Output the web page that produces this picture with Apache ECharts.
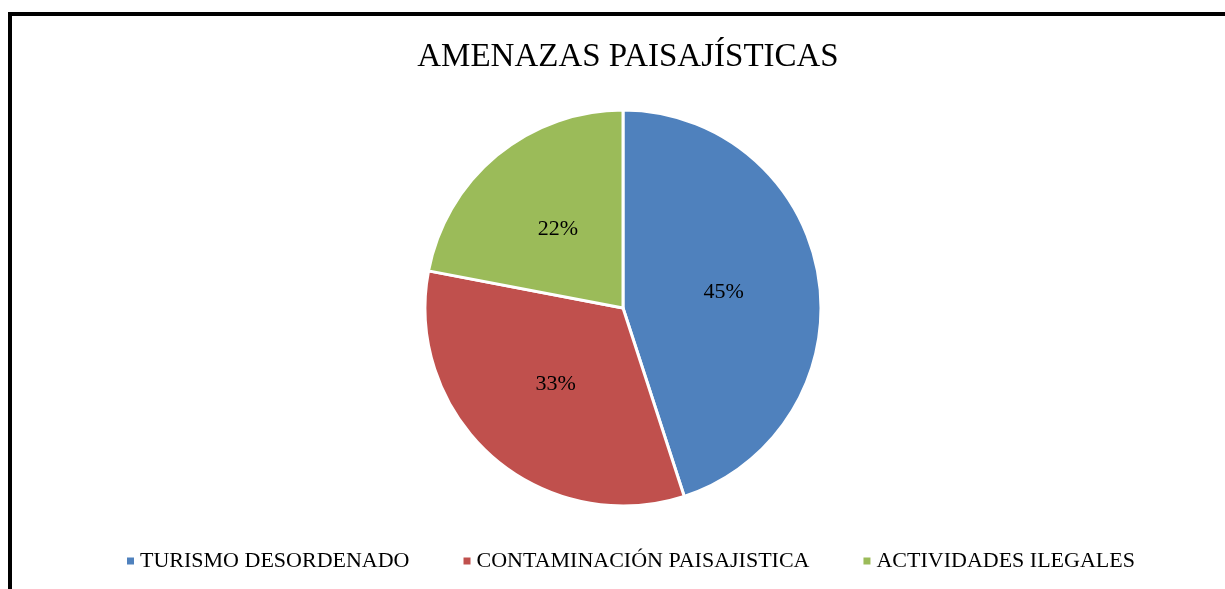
<!DOCTYPE html>
<html>
<head>
<meta charset="utf-8">
<script src="https://cdn.jsdelivr.net/npm/echarts@6/dist/echarts.min.js"></script>
<style>
  html, body { margin: 0; padding: 0; background: #fff; }
  .frame {
    position: absolute; left: 8px; top: 12px;
    width: 1240px; height: 600px;
    border-left: 4px solid #000; border-top: 4px solid #000;
  }
  #chart { position: absolute; left: 0; top: 0; width: 1225px; height: 589px; }
</style>
</head>
<body>
<div class="frame"></div>
<div id="chart"></div>
<script>
  var categories = ['TURISMO DESORDENADO', 'CONTAMINACIÓN PAISAJISTICA', 'ACTIVIDADES ILEGALES'];
  var values = [45, 33, 22];
  var colors = ['#4F81BD', '#C0504D', '#9BBB59'];

  var font = 'Liberation Serif';
  var chart = echarts.init(document.getElementById('chart'));
  chart.setOption({
    animation: false,
    color: colors,
    title: {
      text: 'AMENAZAS PAISAJÍSTICAS',
      left: 623,
      textAlign: 'center',
      top: 36,
      textStyle: { fontFamily: font, fontSize: 33, fontWeight: 'normal', color: '#000' }
    },
    legend: {
      top: 545,
      left: 120,
      icon: 'rect',
      itemWidth: 9,
      itemHeight: 9,
      itemGap: 52,
      textStyle: { fontFamily: font, fontSize: 22, color: '#000' },
      data: categories
    },
    series: [{
      type: 'pie',
      center: [623, 308],
      radius: 198,
      startAngle: 90,
      clockwise: true,
      itemStyle: { borderColor: '#fff', borderWidth: 3 },
      label: {
        position: 'inside',
        formatter: '{d}%',
        fontFamily: font,
        fontSize: 22,
        color: '#000'
      },
      labelLine: { show: false },
      data: categories.map(function (c, i) { return { name: c, value: values[i] }; })
    }]
  });
</script>
</body>
</html>
